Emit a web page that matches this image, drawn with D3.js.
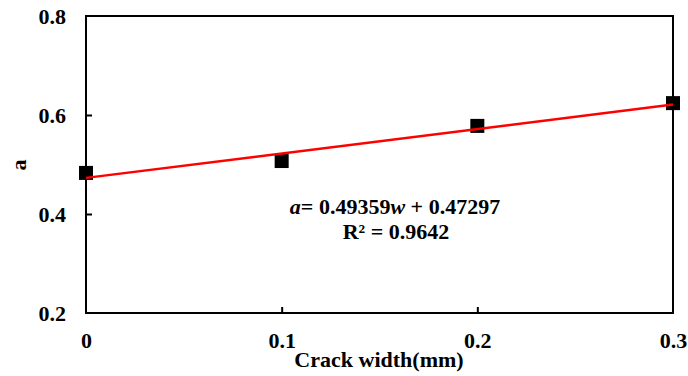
<!DOCTYPE html>
<html>
<head>
<meta charset="utf-8">
<script src="https://cdn.jsdelivr.net/npm/d3@7"></script>
</head>
<body style="margin:0;background:#fff">
<svg width="688" height="376"></svg>
<script>
const crackWidth = [0, 0.1, 0.2, 0.3];
const aValues = [0.483, 0.507, 0.578, 0.624];
const xTicks = [0, 0.1, 0.2, 0.3];
const yTicks = [0.2, 0.4, 0.6, 0.8];
const slope = 0.49359;
const intercept = 0.47297;

const svg = d3.select("svg");
const plotLeft = 86, plotRight = 673, plotTop = 16, plotBottom = 313;
const font = "Liberation Serif";
const fs = 22;

const x = d3.scaleLinear().domain([0, 0.3]).range([plotLeft, plotRight]);
const y = d3.scaleLinear().domain([0.2, 0.8]).range([plotBottom, plotTop]);

// frame
svg.append("rect")
  .attr("x", plotLeft).attr("y", plotTop)
  .attr("width", plotRight - plotLeft).attr("height", plotBottom - plotTop)
  .attr("fill", "none").attr("stroke", "#000").attr("stroke-width", 2);

// y axis (ticks inward)
const yAxis = svg.append("g")
  .attr("transform", `translate(${plotLeft},0)`)
  .call(d3.axisLeft(y).tickValues(yTicks).tickSize(-6).tickPadding(20).tickFormat(d3.format(".1f")));
yAxis.select(".domain").remove();
yAxis.selectAll(".tick line").attr("stroke", "#000").attr("stroke-width", 2)
  .filter(d => d === 0.2 || d === 0.8).remove();
yAxis.selectAll("text").attr("dy", "0.34em");

// x axis (ticks inward)
const xAxis = svg.append("g")
  .attr("transform", `translate(0,${plotBottom})`)
  .call(d3.axisBottom(x).tickValues(xTicks).tickSize(-6).tickPadding(0)
    .tickFormat(d => d === 0 ? "0" : d3.format(".1f")(d)));
xAxis.select(".domain").remove();
xAxis.selectAll(".tick line").attr("stroke", "#000").attr("stroke-width", 2)
  .filter(d => d === 0 || d === 0.3).remove();
xAxis.selectAll("text").attr("y", 35).attr("dy", null);

// markers
const ms = 14;
svg.append("g").selectAll("rect")
  .data(crackWidth.map((w, i) => [w, aValues[i]]))
  .join("rect")
  .attr("x", d => x(d[0]) - ms / 2)
  .attr("y", d => y(d[1]) - ms / 2)
  .attr("width", ms).attr("height", ms)
  .attr("fill", "#000");

// fit line
const line = d3.line().x(d => x(d)).y(d => y(slope * d + intercept));
svg.append("path")
  .attr("d", line([0, 0.3]))
  .attr("fill", "none").attr("stroke", "#ff0000").attr("stroke-width", 2.5);

// equation
const eq = svg.append("text").attr("x", 395).attr("y", 214).attr("text-anchor", "middle");
eq.append("tspan").attr("font-style", "italic").text("a");
eq.append("tspan").text("= 0.49359");
eq.append("tspan").attr("font-style", "italic").text("w");
eq.append("tspan").text(" + 0.47297");
svg.append("text").attr("x", 396).attr("y", 239)
  .attr("text-anchor", "middle").text("R² = 0.9642");

// axis titles
svg.append("text").attr("x", 379).attr("y", 367)
  .attr("text-anchor", "middle").text("Crack width(mm)");
svg.append("text")
  .attr("transform", "translate(26,165) rotate(-90)")
  .attr("text-anchor", "middle").text("a");

// common text styling
svg.selectAll("text")
  .attr("font-family", font).attr("font-weight", "bold")
  .attr("font-size", fs).attr("fill", "#000");
</script>
</body>
</html>
